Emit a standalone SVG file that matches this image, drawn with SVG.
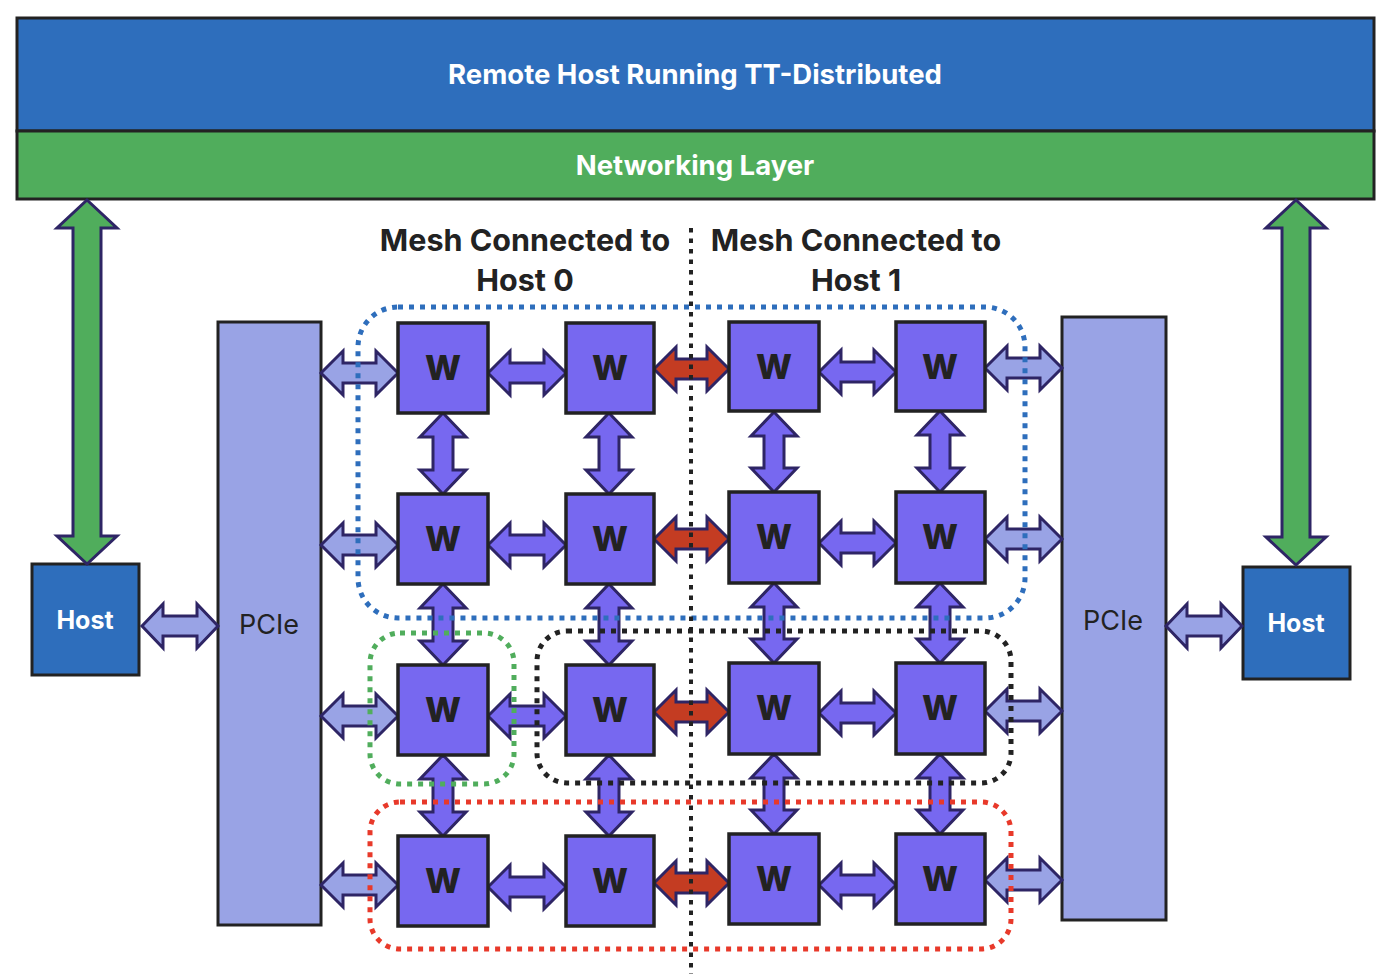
<svg xmlns="http://www.w3.org/2000/svg" width="1384" height="974" viewBox="0 0 1384 974">
<style>
.bar{stroke:#222;stroke-width:3}
.blue{fill:#2E6EBC}
.green{fill:#50AD5C}
.pcie{fill:#99A3E5;stroke:#222;stroke-width:3}
.host{fill:#2E6EBC;stroke:#222;stroke-width:3}
.w{fill:#7768F0;stroke:#222;stroke-width:3.5}
.wt{font-family:Inter,"Liberation Sans",sans-serif;font-weight:800;font-size:34px;fill:#222;text-anchor:middle}
.tt{font-family:Inter,"Liberation Sans",sans-serif;font-weight:700;font-size:27.5px;fill:#fff;text-anchor:middle}
.ht{font-family:Inter,"Liberation Sans",sans-serif;font-weight:700;font-size:25px;fill:#fff;text-anchor:middle}
.pt{font-family:Inter,"Liberation Sans",sans-serif;font-weight:400;font-size:27px;fill:#222;text-anchor:middle}
.mt{font-family:Inter,"Liberation Sans",sans-serif;font-weight:700;font-size:30.5px;fill:#222;text-anchor:middle}
.a{stroke:#2E2565;stroke-width:3;stroke-linejoin:miter}
.aw{fill:#7768F0}
.ap{fill:#99A3E5}
.ar{fill:#C43C22}
.ag{fill:#50AD5C}
.dot{fill:none;stroke-width:5;stroke-dasharray:5 6}
</style>
<g id="remote-host">
<rect class="bar blue" x="17" y="18" width="1357" height="113"/>
<text class="tt" x="695" y="84">Remote Host Running TT-Distributed</text>
</g>
<g id="networking-layer">
<rect class="bar green" x="17" y="131" width="1357" height="68"/>
<text class="tt" x="695" y="175">Networking Layer</text>
</g>
<g id="label-host0">
<text class="mt" x="525" y="251">Mesh Connected to</text>
<text class="mt" x="525" y="291">Host 0</text>
</g>
<g id="label-host1">
<text class="mt" x="856" y="251">Mesh Connected to</text>
<text class="mt" x="856" y="291">Host 1</text>
</g>
<g id="host-left">
<rect class="host" x="32" y="564" width="107" height="111"/>
<text class="ht" x="85" y="629">Host</text>
</g>
<g id="host-right">
<rect class="host" x="1243" y="567" width="107" height="112"/>
<text class="ht" x="1296" y="632">Host</text>
</g>
<g id="pcie-left">
<rect class="pcie" x="218" y="322" width="103" height="603"/>
<text class="pt" x="269" y="634">PCIe</text>
</g>
<g id="pcie-right">
<rect class="pcie" x="1062" y="317" width="104" height="603"/>
<text class="pt" x="1113" y="630">PCIe</text>
</g>
<g id="connectors">
<polygon class="a ag" points="87,200 117,228 101,228 101,536 117,536 87,564 57,536 73,536 73,228 57,228"/>
<polygon class="a ag" points="1296,200 1326,228 1310,228 1310,537 1326,537 1296,565 1266,537 1282,537 1282,228 1266,228"/>
<polygon class="a ap" points="142,626 163,604 163,616 197,616 197,604 218,626 197,648 197,636 163,636 163,648"/>
<polygon class="a ap" points="1166,626 1187,604 1187,616 1221,616 1221,604 1242,626 1221,648 1221,636 1187,636 1187,648"/>
<polygon class="a ap" points="321,373 343,351 343,363 376,363 376,351 398,373 376,395 376,383 343,383 343,395"/>
<polygon class="a aw" points="488,373 510,351 510,363 544,363 544,351 566,373 544,395 544,383 510,383 510,395"/>
<polygon class="a ar" points="654,369 676,347 676,359 707,359 707,347 729,369 707,391 707,379 676,379 676,391"/>
<polygon class="a aw" points="819,372 841,350 841,362 874,362 874,350 896,372 874,394 874,382 841,382 841,394"/>
<polygon class="a ap" points="985,368 1007,346 1007,358 1040,358 1040,346 1062,368 1040,390 1040,378 1007,378 1007,390"/>
<polygon class="a ap" points="321,545 343,523 343,535 376,535 376,523 398,545 376,567 376,555 343,555 343,567"/>
<polygon class="a aw" points="488,545 510,523 510,535 544,535 544,523 566,545 544,567 544,555 510,555 510,567"/>
<polygon class="a ar" points="654,539 676,517 676,529 707,529 707,517 729,539 707,561 707,549 676,549 676,561"/>
<polygon class="a aw" points="819,543 841,521 841,533 874,533 874,521 896,543 874,565 874,553 841,553 841,565"/>
<polygon class="a ap" points="985,539 1007,517 1007,529 1040,529 1040,517 1062,539 1040,561 1040,549 1007,549 1007,561"/>
<polygon class="a ap" points="321,716 343,694 343,706 376,706 376,694 398,716 376,738 376,726 343,726 343,738"/>
<polygon class="a aw" points="488,716 510,694 510,706 544,706 544,694 566,716 544,738 544,726 510,726 510,738"/>
<polygon class="a ar" points="654,712 676,690 676,702 707,702 707,690 729,712 707,734 707,722 676,722 676,734"/>
<polygon class="a aw" points="819,713 841,691 841,703 874,703 874,691 896,713 874,735 874,723 841,723 841,735"/>
<polygon class="a ap" points="985,711 1007,689 1007,701 1040,701 1040,689 1062,711 1040,733 1040,721 1007,721 1007,733"/>
<polygon class="a ap" points="321,885 343,863 343,875 376,875 376,863 398,885 376,907 376,895 343,895 343,907"/>
<polygon class="a aw" points="488,887 510,865 510,877 544,877 544,865 566,887 544,909 544,897 510,897 510,909"/>
<polygon class="a ar" points="654,883 676,861 676,873 707,873 707,861 729,883 707,905 707,893 676,893 676,905"/>
<polygon class="a aw" points="819,885 841,863 841,875 874,875 874,863 896,885 874,907 874,895 841,895 841,907"/>
<polygon class="a ap" points="985,880 1007,858 1007,870 1040,870 1040,858 1062,880 1040,902 1040,890 1007,890 1007,902"/>
<polygon class="a aw" points="443,413 466,437 453,437 453,470 466,470 443,494 420,470 433,470 433,437 420,437"/>
<polygon class="a aw" points="609,413 632,437 619,437 619,470 632,470 609,494 586,470 599,470 599,437 586,437"/>
<polygon class="a aw" points="774,412 797,436 784,436 784,468 797,468 774,492 751,468 764,468 764,436 751,436"/>
<polygon class="a aw" points="940,411 963,435 950,435 950,468 963,468 940,492 917,468 930,468 930,435 917,435"/>
<polygon class="a aw" points="443,584 466,608 453,608 453,641 466,641 443,665 420,641 433,641 433,608 420,608"/>
<polygon class="a aw" points="609,584 632,608 619,608 619,641 632,641 609,665 586,641 599,641 599,608 586,608"/>
<polygon class="a aw" points="774,583 797,607 784,607 784,639 797,639 774,663 751,639 764,639 764,607 751,607"/>
<polygon class="a aw" points="940,583 963,607 950,607 950,639 963,639 940,663 917,639 930,639 930,607 917,607"/>
<polygon class="a aw" points="443,755 466,779 453,779 453,812 466,812 443,836 420,812 433,812 433,779 420,779"/>
<polygon class="a aw" points="609,755 632,779 619,779 619,812 632,812 609,836 586,812 599,812 599,779 586,779"/>
<polygon class="a aw" points="774,754 797,778 784,778 784,810 797,810 774,834 751,810 764,810 764,778 751,778"/>
<polygon class="a aw" points="940,754 963,778 950,778 950,810 963,810 940,834 917,810 930,810 930,778 917,778"/>
</g>
<g id="w-r1c1"><rect class="w" x="398" y="323" width="90" height="90"/><text class="wt" x="443" y="380">W</text></g>
<g id="w-r1c2"><rect class="w" x="566" y="323" width="88" height="90"/><text class="wt" x="610" y="380">W</text></g>
<g id="w-r1c3"><rect class="w" x="729" y="322" width="90" height="89"/><text class="wt" x="774" y="379">W</text></g>
<g id="w-r1c4"><rect class="w" x="896" y="322" width="89" height="89"/><text class="wt" x="940" y="379">W</text></g>
<g id="w-r2c1"><rect class="w" x="398" y="494" width="90" height="90"/><text class="wt" x="443" y="551">W</text></g>
<g id="w-r2c2"><rect class="w" x="566" y="494" width="88" height="90"/><text class="wt" x="610" y="551">W</text></g>
<g id="w-r2c3"><rect class="w" x="729" y="492" width="90" height="91"/><text class="wt" x="774" y="549">W</text></g>
<g id="w-r2c4"><rect class="w" x="896" y="492" width="89" height="91"/><text class="wt" x="940" y="549">W</text></g>
<g id="w-r3c1"><rect class="w" x="398" y="665" width="90" height="90"/><text class="wt" x="443" y="722">W</text></g>
<g id="w-r3c2"><rect class="w" x="566" y="665" width="88" height="90"/><text class="wt" x="610" y="722">W</text></g>
<g id="w-r3c3"><rect class="w" x="729" y="663" width="90" height="91"/><text class="wt" x="774" y="720">W</text></g>
<g id="w-r3c4"><rect class="w" x="896" y="663" width="89" height="91"/><text class="wt" x="940" y="720">W</text></g>
<g id="w-r4c1"><rect class="w" x="398" y="836" width="90" height="90"/><text class="wt" x="443" y="893">W</text></g>
<g id="w-r4c2"><rect class="w" x="566" y="836" width="88" height="90"/><text class="wt" x="610" y="893">W</text></g>
<g id="w-r4c3"><rect class="w" x="729" y="834" width="90" height="90"/><text class="wt" x="774" y="891">W</text></g>
<g id="w-r4c4"><rect class="w" x="896" y="834" width="89" height="90"/><text class="wt" x="940" y="891">W</text></g>
<g id="regions">
<rect class="dot" x="358" y="307" width="667" height="311" rx="40" stroke="#2E6EBC"/>
<rect class="dot" x="370" y="633" width="144" height="151" rx="30" stroke="#50AD5C"/>
<rect class="dot" x="537" y="631" width="474" height="152" rx="30" stroke="#222"/>
<rect class="dot" x="370" y="802" width="641" height="147" rx="30" stroke="#E8392A"/>
<line x1="691" y1="228" x2="691" y2="974" stroke="#222" stroke-width="4" stroke-dasharray="4.5 6"/>
</g>
</svg>
